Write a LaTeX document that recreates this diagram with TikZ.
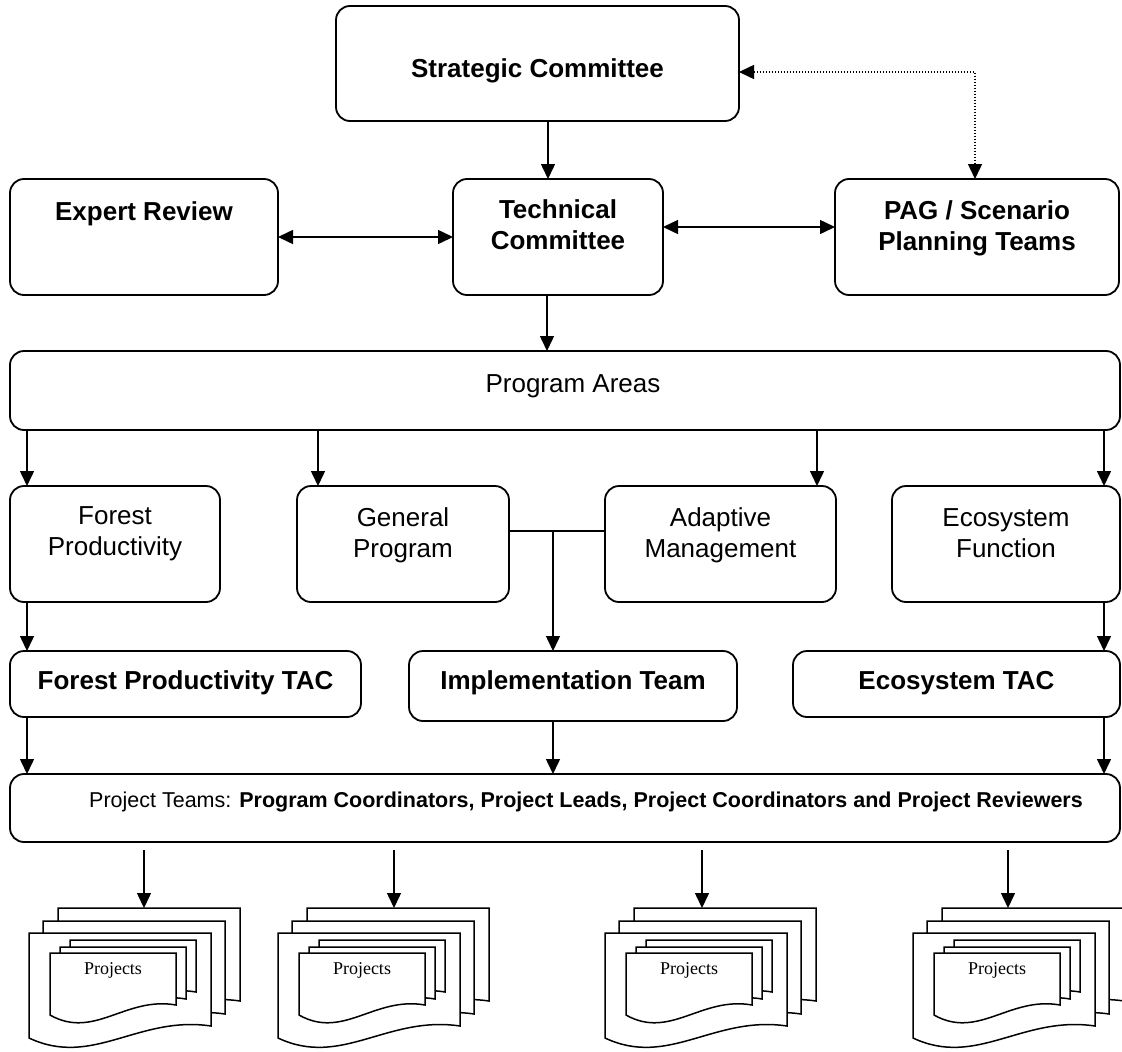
\documentclass[tikz,border=0pt]{standalone}
\usepackage{fontspec}
\setmainfont{Liberation Sans}
\newfontfamily\projfont{Liberation Serif}
\usetikzlibrary{arrows.meta}
\newcommand{\boxtxt}[4]{\parbox[c][#2][t]{#1}{\centering\vspace*{#3}\strut#4\par}}
\begin{document}
\begin{tikzpicture}[x=1pt,y=-1pt,
  box/.style={draw, line width=1.8pt, rounded corners=14pt, inner sep=0pt, outer sep=0pt, anchor=north west, fill=white},
  big/.style={font=\fontsize{26}{31}\selectfont\bfseries},
  reg/.style={font=\fontsize{26}{31}\selectfont},
  small/.style={font=\fontsize{21.5}{26}\selectfont},
  arr/.style={line width=1.5pt, -{Triangle[length=15pt,width=14pt]}},
  arrr/.style={line width=1.5pt, {Triangle[length=15pt,width=14pt]}-{Triangle[length=15pt,width=14pt]}},
  dotarr/.style={line width=1.5pt, dash pattern=on 1.5pt off 1.5pt, {Triangle[length=15pt,width=14pt]}-{Triangle[length=15pt,width=14pt]}},
  ln/.style={line width=1.5pt},
  pagestyle/.style={draw, line width=1.5pt, fill=white, line join=miter},
  projtxt/.style={font=\projfont\fontsize{18}{22}\selectfont, inner sep=0pt},
  pics/pg/.style n args={3}{code={\draw[pagestyle] (0,0) -- (#1,0) -- (#1,#2-#3) .. controls ({0.6*#1},{#2-1.9*#3}) and ({0.35*#1},{#2+2.5*#3}) .. (0,#2) -- cycle;}}
]
\useasboundingbox (0,0) rectangle (1122,1052);

\node[box,big] (sc) at (336,6) {\boxtxt{403pt}{115pt}{49.6pt}{Strategic Committee}};
\node[box,big] (er) at (10,179) {\boxtxt{268pt}{116pt}{19.6pt}{Expert Review}};
\node[box,big] (tc) at (453,179) {\boxtxt{210pt}{116pt}{17.6pt}{Technical\\Committee}};
\node[box,big] (pag) at (835,179) {\boxtxt{284pt}{116pt}{18.6pt}{PAG / Scenario\\Planning Teams}};
\node[box,reg] (pa) at (10,351) {\boxtxt{1110pt}{79pt}{19.6pt}{\hspace*{16pt}Program Areas}};
\node[box,reg] (fp) at (10,486) {\boxtxt{210pt}{116pt}{16.6pt}{Forest\\Productivity}};
\node[box,reg] (gp) at (297,486) {\boxtxt{212pt}{116pt}{18.6pt}{General\\Program}};
\node[box,reg] (am) at (605,486) {\boxtxt{231pt}{116pt}{18.6pt}{Adaptive\\Management}};
\node[box,reg] (ef) at (892,486) {\boxtxt{228pt}{116pt}{18.6pt}{Ecosystem\\Function}};
\node[box,big] (fpt) at (10,651) {\boxtxt{351pt}{66pt}{16.6pt}{Forest Productivity TAC}};
\node[box,big] (it) at (409,651) {\boxtxt{328pt}{70pt}{16.6pt}{Implementation Team}};
\node[box,big] (et) at (793,651) {\boxtxt{327pt}{66pt}{16.6pt}{Ecosystem TAC}};
\node[box,small] (pt) at (10,774) {\boxtxt{1110pt}{68pt}{15.5pt}{\hspace*{42pt}Project Teams: \textbf{Program Coordinators, Project Leads, Project Coordinators and Project Reviewers}}};

\draw[arr] (548,0 |- sc.south) -- (548,0 |- tc.north);
\draw[arrr] (er.east |- 0,237) -- (tc.west |- 0,237);
\draw[arrr] (tc.east |- 0,227) -- (pag.west |- 0,227);
\coordinate (dk) at (975,72);
\draw[dotarr] (sc.east |- dk) -- (dk) -- (dk |- pag.north);
\draw[arr] (547,0 |- tc.south) -- (547,0 |- pa.north);
\draw[arr] (27,0 |- pa.south) -- (27,0 |- fp.north);
\draw[arr] (318,0 |- pa.south) -- (318,0 |- gp.north);
\draw[arr] (817,0 |- pa.south) -- (817,0 |- am.north);
\draw[arr] (1104,0 |- pa.south) -- (1104,0 |- ef.north);
\draw[arr] (27,0 |- fp.south) -- (27,0 |- fpt.north);
\draw[arr] (1104,0 |- ef.south) -- (1104,0 |- et.north);
\coordinate (jn) at (553,531);
\draw[ln] (gp.east |- jn) -- (am.west |- jn);
\draw[arr] (jn) -- (jn |- it.north);
\draw[arr] (27,0 |- fpt.south) -- (27,0 |- pt.north);
\draw[arr] (553,0 |- it.south) -- (553,0 |- pt.north);
\draw[arr] (1104,0 |- et.south) -- (1104,0 |- pt.north);

\foreach \fl/\ax/\i in {29/144/1, 278/394/2, 605/702/3, 913/1008/4}{
  \pic at (\fl+29,908) {pg={182}{105}{12}};
  \pic at (\fl+14,921) {pg={182}{105}{12}};
  \pic at (\fl,933) {pg={182}{105}{12}};
  \pic at (\fl+41,940) {pg={126}{62}{10}};
  \pic at (\fl+31,947) {pg={126}{62}{10}};
  \pic at (\fl+21,953) {pg={126}{62}{10}};
  \node[projtxt] (proj\i) at (\fl+84,970) {Projects};
  \coordinate (s\i) at (\ax,850);
  \coordinate (t\i) at (\ax,908);
  \draw[arr] (s\i) -- (t\i);
}
\end{tikzpicture}
\end{document}
